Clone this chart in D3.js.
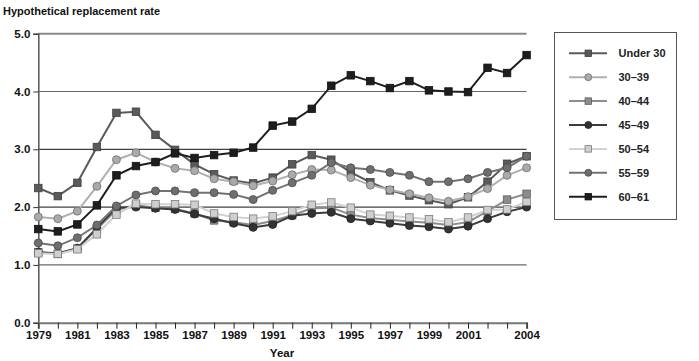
<!DOCTYPE html>
<html><head><meta charset="utf-8">
<script src="https://cdn.jsdelivr.net/npm/d3@7/dist/d3.min.js"></script>
<style>
body{margin:0;background:#fff;}
text{font-family:"Liberation Sans",Arial,sans-serif;font-weight:bold;}
</style></head>
<body><svg id="c" width="699" height="361"></svg>
<script>
const years = d3.range(1979, 2005);
const xTickLabels = [1979,1981,1983,1985,1987,1989,1991,1993,1995,1997,1999,2001,2004];
const yTicks = [0,1,2,3,4,5];
const seriesNames = ["Under 30","30\u201339","40\u201344","45\u201349","50\u201354","55\u201359","60\u201361"];

const under30 = [2.33,2.19,2.42,3.04,3.63,3.65,3.25,2.99,2.74,2.57,2.46,2.41,2.51,2.74,2.90,2.82,2.60,2.43,2.29,2.20,2.12,2.05,2.17,2.44,2.75,2.88];
const age30_39 = [1.83,1.80,1.93,2.36,2.82,2.94,2.78,2.67,2.63,2.49,2.44,2.37,2.45,2.56,2.65,2.64,2.51,2.38,2.30,2.23,2.16,2.10,2.18,2.32,2.55,2.68];
const age40_44 = [1.22,1.19,1.28,1.62,1.95,2.03,1.99,1.97,1.89,1.77,1.74,1.69,1.76,1.86,1.98,1.99,1.87,1.81,1.78,1.75,1.73,1.69,1.74,1.93,2.13,2.23];
const age45_49 = [1.22,1.20,1.29,1.64,1.99,2.00,1.98,1.96,1.88,1.80,1.72,1.65,1.70,1.85,1.89,1.91,1.80,1.76,1.72,1.68,1.66,1.62,1.67,1.80,1.92,2.00];
const age50_54 = [1.20,1.19,1.27,1.53,1.87,2.06,2.05,2.05,2.04,1.89,1.83,1.80,1.84,1.93,2.04,2.08,1.99,1.87,1.85,1.82,1.79,1.74,1.82,1.95,1.96,2.09];
const age55_59 = [1.38,1.33,1.47,1.69,2.02,2.21,2.28,2.28,2.25,2.25,2.22,2.13,2.29,2.42,2.55,2.77,2.68,2.65,2.60,2.55,2.44,2.44,2.49,2.60,2.68,2.88];
const age60_61 = [1.62,1.58,1.70,2.03,2.55,2.71,2.78,2.93,2.85,2.90,2.94,3.03,3.41,3.48,3.70,4.10,4.28,4.18,4.06,4.18,4.02,4.00,3.99,4.41,4.32,4.63];

const seriesValues = [under30, age30_39, age40_44, age45_49, age50_54, age55_59, age60_61];
const styles = [
  {line:"#5a5a5a", fill:"#5a5a5a", stroke:"#404040", shape:"square"},
  {line:"#b0b0b0", fill:"#aaaaaa", stroke:"#6e6e6e", shape:"circle"},
  {line:"#8c8c8c", fill:"#8c8c8c", stroke:"#5e5e5e", shape:"square"},
  {line:"#3c3c3c", fill:"#333333", stroke:"#222222", shape:"circle"},
  {line:"#d2d2d2", fill:"#cfcfcf", stroke:"#7a7a7a", shape:"square"},
  {line:"#737373", fill:"#6e6e6e", stroke:"#4a4a4a", shape:"circle"},
  {line:"#1e1e1e", fill:"#1e1e1e", stroke:"#111111", shape:"square"}
];

const svg = d3.select("#c");
const x = d3.scaleLinear().domain([1979, 2004]).range([38.3, 526.6]);
const y = d3.scaleLinear().domain([0, 5]).range([322.7, 33.7]);

// gridlines
const gridStyle = {0:null, 1:{c:"#6a6a6a",w:1.2}, 2:{c:"#111",w:1}, 3:{c:"#111",w:1}, 4:{c:"#6a6a6a",w:1.2}, 5:{c:"#8a8a8a",w:2}};
yTicks.forEach(t => {
  const g = gridStyle[t];
  if (!g) return;
  svg.append("line").attr("x1", x(1979)).attr("x2", x(2004))
    .attr("y1", y(t)).attr("y2", y(t)).attr("stroke", g.c).attr("stroke-width", g.w);
});

// y axis
const yAxis = d3.axisLeft(y).tickValues(yTicks).tickFormat(d3.format(".1f")).tickSize(5).tickPadding(3);
const yg = svg.append("g").attr("transform", `translate(${x(1979)},0)`).call(yAxis);
yg.select(".domain").attr("stroke", "#555").attr("stroke-width", 1.5);
yg.selectAll(".tick line").attr("stroke", "#333");
yg.selectAll("text").attr("font-size", 11.5).attr("fill", "#111")
  .style("font-family", "Liberation Sans, Arial, sans-serif").style("font-weight", "bold");

// x axis
const xAxis = d3.axisBottom(x).tickValues(years).tickSize(6)
  .tickFormat(d => xTickLabels.includes(d) ? d : "").tickPadding(2);
const xg = svg.append("g").attr("transform", `translate(0,${y(0)})`).call(xAxis);
xg.select(".domain").attr("stroke", "#777").attr("stroke-width", 2);
xg.selectAll(".tick line").attr("stroke", "#222");
xg.selectAll("text").attr("font-size", 11.5).attr("fill", "#111")
  .style("font-family", "Liberation Sans, Arial, sans-serif").style("font-weight", "bold");

// titles
svg.append("text").attr("x", 3).attr("y", 15).attr("font-size", 11).attr("fill", "#111")
  .text("Hypothetical replacement rate");
svg.append("text").attr("x", 282).attr("y", 357).attr("text-anchor", "middle")
  .attr("font-size", 11.5).attr("fill", "#111").text("Year");

function drawMarker(g, shape, cx, cy, st, size) {
  if (shape === "square") {
    g.append("rect").attr("x", cx - size/2).attr("y", cy - size/2)
      .attr("width", size).attr("height", size)
      .attr("fill", st.fill).attr("stroke", st.stroke).attr("stroke-width", 0.8);
  } else {
    g.append("circle").attr("cx", cx).attr("cy", cy).attr("r", size/2)
      .attr("fill", st.fill).attr("stroke", st.stroke).attr("stroke-width", 0.8);
  }
}

const line = d3.line().x((d, i) => x(years[i])).y(d => y(d));
const order = [0,1,2,3,4,5,6];
order.forEach(si => {
  const st = styles[si];
  const g = svg.append("g");
  g.append("path").datum(seriesValues[si]).attr("d", line)
    .attr("fill", "none").attr("stroke", st.line).attr("stroke-width", 2);
  seriesValues[si].forEach((v, i) => drawMarker(g, st.shape, x(years[i]), y(v), st, st.shape === "square" ? 7.5 : 8));
});

// legend
const lg = svg.append("g");
lg.append("rect").attr("x", 554.5).attr("y", 32.5).attr("width", 122).attr("height", 187)
  .attr("fill", "#fff").attr("stroke", "#555").attr("stroke-width", 1);
const legendY = d3.scalePoint().domain(seriesNames).range([53.3, 196.7]);
seriesNames.forEach((name, si) => {
  const st = styles[si];
  const cy = legendY(name);
  lg.append("line").attr("x1", 569).attr("x2", 607).attr("y1", cy).attr("y2", cy)
    .attr("stroke", st.line).attr("stroke-width", 2);
  drawMarker(lg, st.shape, 588.3, cy, st, st.shape === "square" ? 6.5 : 7);
  lg.append("text").attr("x", 618.5).attr("y", cy + 4).attr("font-size", 11).attr("fill", "#222").text(name);
});
</script></body></html>
